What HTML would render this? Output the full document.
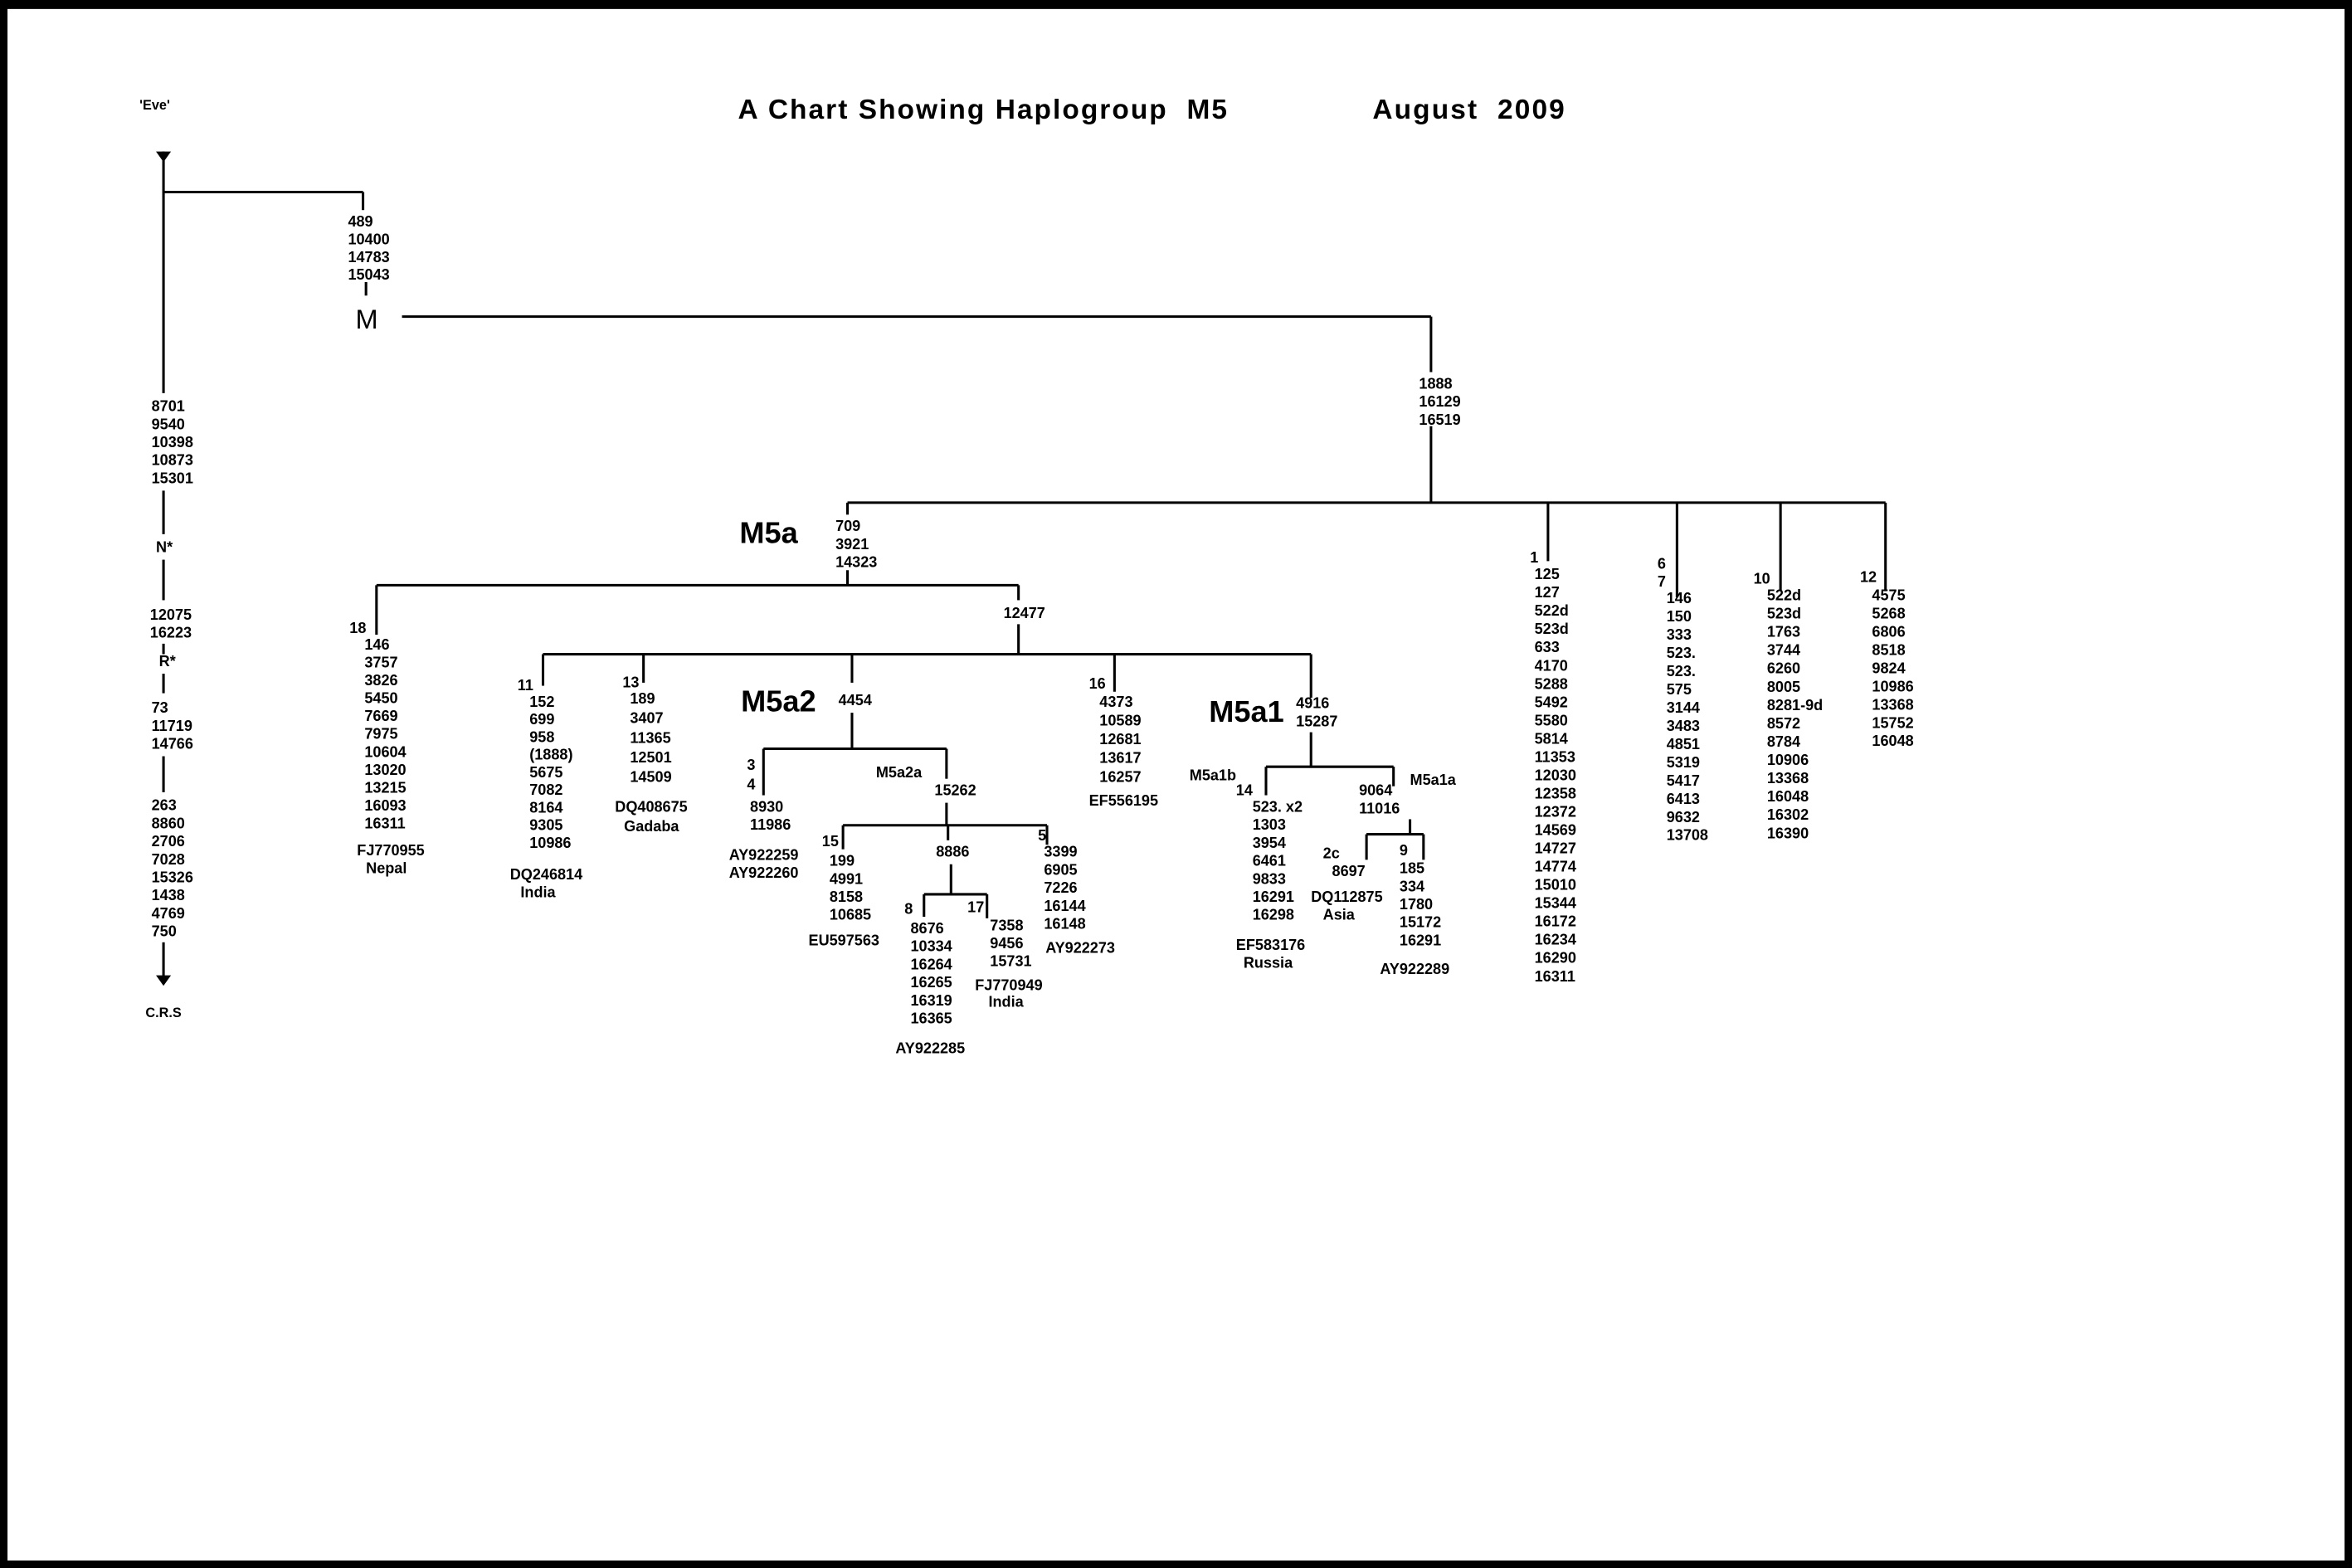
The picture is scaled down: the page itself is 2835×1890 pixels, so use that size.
<!DOCTYPE html>
<html><head><meta charset="utf-8">
<style>
html,body{margin:0;padding:0;background:#000;}
svg{display:block;}
text{font-family:"Liberation Sans",Arial,sans-serif;font-weight:bold;fill:#000;}
</style></head>
<body>
<svg id="chart" width="2835" height="1890" viewBox="0 0 1568 1045" preserveAspectRatio="none" xmlns="http://www.w3.org/2000/svg">
<rect x="0" y="0" width="1568" height="1045" fill="#000"/>
<rect x="5" y="6" width="1558" height="1034" fill="#fff"/>
<text x="492" y="79" font-size="18.5" textLength="326" xml:space="preserve">A Chart Showing Haplogroup  M5</text>
<text x="915" y="79" font-size="18.5" textLength="128" xml:space="preserve">August  2009</text>
<text x="93" y="73" font-size="9">'Eve'</text>
<text x="97" y="678" font-size="9">C.R.S</text>
<text x="237" y="219" font-size="18" style="font-weight:normal">M</text>
<text x="493" y="362" font-size="20">M5a</text>
<text x="494" y="474" font-size="20">M5a2</text>
<text x="806" y="481" font-size="20">M5a1</text>
<polygon points="104,101 114,101 109,108" fill="#000"/>
<polygon points="104,650 114,650 109,657" fill="#000"/>
<g id="lines" stroke="#000" stroke-width="1.7" fill="none"></g>
<g id="labels"></g>
</svg>
<script>
// Tree segments [x1,y1,x2,y2]
const segments = [
[109,101,109,262],[109,128,242,128],[242,128,242,140],[244,188,244,197],
[268,211,954,211],[954,211,954,248],[954,284,954,335],[565,335,1257,335],
[109,327,109,356],[109,373,109,400],[109,429,109,436],[109,449,109,462],[109,504,109,528],[109,628,109,651],
[565,335,565,343],[565,380,565,390],[251,390,679,390],[251,390,251,423],[679,390,679,400],[679,416,679,436],
[362,436,874,436],[362,436,362,457],[429,436,429,455],[568,436,568,455],[568,475,568,499],
[509,499,631,499],[509,499,509,530],[631,499,631,519],[631,535,631,550],
[562,550,698,550],[562,550,562,566],[632,550,632,560],[634,576,634,596],[616,596,658,596],[616,596,616,611],[658,596,658,612],[698,550,698,563],
[743,436,743,461],[874,436,874,465],[874,488,874,511],[844,511,929,511],[844,511,844,530],[929,511,929,524],
[940,546,940,556],[911,556,949,556],[911,556,911,573],[949,556,949,573],
[1032,335,1032,374],[1118,335,1118,398],[1187,335,1187,394],[1257,335,1257,394]
];
// Text blocks: [x, firstBaseline, lineSpacing, lines]
const blocks = [
[232,151,11.8,["489","10400","14783","15043"]],
[946,259,12,["1888","16129","16519"]],
[101,274,12,["8701","9540","10398","10873","15301"]],
[104,368,12,["N*"]],
[100,413,12,["12075","16223"]],
[106,444,12,["R*"]],
[101,475,12,["73","11719","14766"]],
[101,540,12,["263","8860","2706","7028","15326","1438","4769","750"]],
[557,354,12,["709","3921","14323"]],
[669,412,12,["12477"]],
[233,422,12,["18"]],
[243,433,11.9,["146","3757","3826","5450","7669","7975","10604","13020","13215","16093","16311"]],
[238,570,12,["FJ770955"]],[244,582,12,["Nepal"]],
[345,460,12,["11"]],
[353,471,11.75,["152","699","958","(1888)","5675","7082","8164","9305","10986"]],
[340,586,12,["DQ246814"]],[347,598,12,["India"]],
[415,458,12,["13"]],
[420,469,13,["189","3407","11365","12501","14509"]],
[410,541,13,["DQ408675"]],[416,554,12,["Gadaba"]],
[559,470,12,["4454"]],
[498,513,13,["3","4"]],
[500,541,12,["8930","11986"]],
[486,573,12,["AY922259","AY922260"]],
[584,518,12,["M5a2a"]],
[623,530,12,["15262"]],
[548,564,12,["15"]],
[553,577,12,["199","4991","8158","10685"]],
[539,630,12,["EU597563"]],
[624,571,12,["8886"]],
[603,609,12,["8"]],
[607,622,12,["8676","10334","16264","16265","16319","16365"]],
[597,702,12,["AY922285"]],
[645,608,12,["17"]],
[660,620,12,["7358","9456","15731"]],
[650,660,11.5,["FJ770949"]],[659,671,12,["India"]],
[692,560,12,["5"]],
[696,571,12,["3399","6905","7226","16144","16148"]],
[697,635,12,["AY922273"]],
[726,459,12,["16"]],
[733,471,12.5,["4373","10589","12681","13617","16257"]],
[726,537,12,["EF556195"]],
[864,472,12,["4916","15287"]],
[793,520,12,["M5a1b"]],
[824,530,12,["14"]],
[835,541,12,["523. x2","1303","3954","6461","9833","16291","16298"]],
[824,633,12,["EF583176"]],[829,645,12,["Russia"]],
[906,530,12,["9064","11016"]],
[940,523,12,["M5a1a"]],
[882,572,12,["2c"]],
[888,584,12,["8697"]],
[874,601,12,["DQ112875"]],[882,613,12,["Asia"]],
[933,570,12,["9"]],
[933,582,12,["185","334","1780","15172","16291"]],
[920,649,12,["AY922289"]],
[1020,375,12,["1"]],
[1023,386,12.18,["125","127","522d","523d","633","4170","5288","5492","5580","5814","11353","12030","12358","12372","14569","14727","14774","15010","15344","16172","16234","16290","16311"]],
[1105,379,12,["6","7"]],
[1111,402,12.15,["146","150","333","523.","523.","575","3144","3483","4851","5319","5417","6413","9632","13708"]],
[1169,389,12,["10"]],
[1178,400,12.2,["522d","523d","1763","3744","6260","8005","8281-9d","8572","8784","10906","13368","16048","16302","16390"]],
[1240,388,12,["12"]],
[1248,400,12.15,["4575","5268","6806","8518","9824","10986","13368","15752","16048"]]
];
const NS="http://www.w3.org/2000/svg";
const lg=document.getElementById('lines');
segments.forEach(s=>{
  const l=document.createElementNS(NS,'line');
  l.setAttribute('x1',s[0]);l.setAttribute('y1',s[1]);l.setAttribute('x2',s[2]);l.setAttribute('y2',s[3]);
  
  
  lg.appendChild(l);
});
const tg=document.getElementById('labels');
blocks.forEach(b=>{
  b[3].forEach((t,i)=>{
    const e=document.createElementNS(NS,'text');
    e.setAttribute('x',b[0]);e.setAttribute('y',b[1]+i*b[2]);
    e.setAttribute('font-size','10');
    e.textContent=t;
    
    
    tg.appendChild(e);
  });
});
</script>
</body></html>
